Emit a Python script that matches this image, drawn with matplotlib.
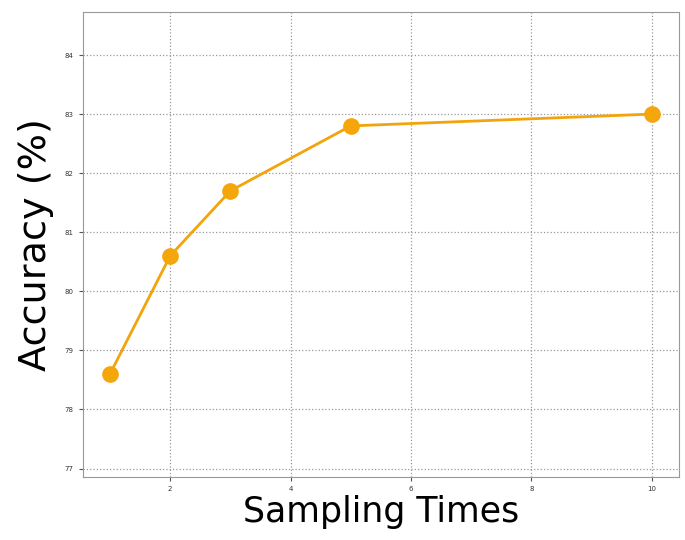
import matplotlib
matplotlib.use("Agg")
import matplotlib.pyplot as plt

sampling_times = [1, 2, 3, 5, 10]
accuracy = [78.6, 80.6, 81.7, 82.8, 83.0]

x_ticks = [2, 4, 6, 8, 10]
y_ticks = [77, 78, 79, 80, 81, 82, 83, 84]

fig = plt.figure(figsize=(6.85, 5.4), dpi=100)
ax = fig.add_axes([0.121, 0.117, 0.870, 0.861])

ax.plot(sampling_times, accuracy, color='#F2A40C', linewidth=2,
        marker='o', markersize=11, markerfacecolor='#F5A60A', markeredgecolor='#F5A60A')

ax.set_xticks(x_ticks)
ax.set_yticks(y_ticks)
ax.set_ylim(76.86, 84.73)
ax.tick_params(labelsize=5, length=3, color='#555555', labelcolor='#333333')
ax.grid(True, linestyle=':', color='#999999', linewidth=0.9)

for s in ax.spines.values():
    s.set_color('#999999')

ax.set_xlabel('Sampling Times', fontsize=25, labelpad=2)
ax.set_ylabel('Accuracy (%)', fontsize=27.5, labelpad=8)

fig.savefig('out.png', dpi=100)
